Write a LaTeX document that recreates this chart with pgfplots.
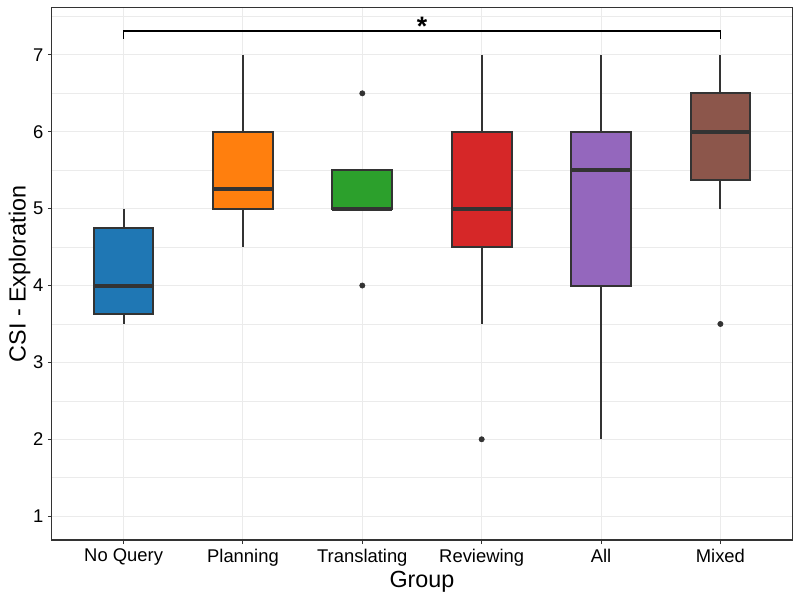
\documentclass[border=0pt]{standalone}
\usepackage{fontspec}
\setmainfont{Liberation Sans}
\usepackage{pgfplots}
\pgfplotsset{compat=1.18}
\usepgfplotslibrary{statistics}
\definecolor{c1}{HTML}{1F77B4}
\definecolor{c2}{HTML}{FF7F0E}
\definecolor{c3}{HTML}{2CA02C}
\definecolor{c4}{HTML}{D62728}
\definecolor{c5}{HTML}{9467BD}
\definecolor{c6}{HTML}{8C564B}
\definecolor{frame}{HTML}{333333}
\definecolor{gridc}{HTML}{EBEBEB}
\begin{document}
\begin{tikzpicture}
\begin{axis}[
    at={(0,0)}, anchor=south west,
    scale only axis, width=555pt, height=399pt,
    xmin=0.4, xmax=6.6, ymin=0.69, ymax=7.61,
    xtick={1,...,6},
    xticklabels={No Query,Planning,Translating,Reviewing,All,Mixed},
    ytick={1,...,7},
    minor ytick={1.5,2.5,...,7.5},
    grid=both,
    major grid style={gridc, line width=0.75pt},
    minor grid style={gridc, line width=0.4pt},
    axis line style={frame, line width=0.75pt},
    tick align=outside, tick pos=left,
    major tick length=3pt, minor tick length=0pt,
    tick style={frame, line width=0.75pt},
    xlabel={Group}, ylabel={CSI - Exploration},
    label style={font=\fontsize{17.5}{20}\selectfont},
    xlabel style={yshift=3pt},
    ylabel style={yshift=-5pt},
    tick label style={font=\fontsize{13.8}{16}\selectfont, black},
    /pgf/number format/assume math mode=true,
    boxplot/draw direction=y,
    boxplot/box extend=0.5,
    boxplot/whisker extend=0,
    boxplot/every box/.style={draw=frame, line width=1.5pt},
    boxplot/every whisker/.style={draw=frame, line width=1.5pt},
    boxplot/every median/.style={draw=frame, line width=3pt},
    outl/.style={mark=*, mark size=2pt, mark options={draw=frame, fill=frame}},
]
\addplot[boxplot prepared={draw position=1, lower whisker=3.5, lower quartile=3.625,
    median=4, upper quartile=4.75, upper whisker=5}, fill=c1, draw=frame] coordinates {};
\addplot[boxplot prepared={draw position=2, lower whisker=4.5, lower quartile=5,
    median=5.25, upper quartile=6, upper whisker=7}, fill=c2, draw=frame] coordinates {};
\addplot[boxplot prepared={draw position=3, lower whisker=5, lower quartile=5,
    median=5, upper quartile=5.5, upper whisker=5.5}, fill=c3, draw=frame, outl]
    coordinates {(0,6.5) (0,4)};
\addplot[boxplot prepared={draw position=4, lower whisker=3.5, lower quartile=4.5,
    median=5, upper quartile=6, upper whisker=7}, fill=c4, draw=frame, outl]
    coordinates {(0,2)};
\addplot[boxplot prepared={draw position=5, lower whisker=2, lower quartile=4,
    median=5.5, upper quartile=6, upper whisker=7}, fill=c5, draw=frame] coordinates {};
\addplot[boxplot prepared={draw position=6, lower whisker=5, lower quartile=5.375,
    median=6, upper quartile=6.5, upper whisker=7}, fill=c6, draw=frame, outl]
    coordinates {(0,3.5)};
% significance bracket
\draw[black, line width=1.3pt] (axis cs:1,7.21) -- (axis cs:1,7.31)
    -- (axis cs:6,7.31) -- (axis cs:6,7.21);
\node[anchor=base, font=\fontsize{20}{22}\selectfont\bfseries, inner sep=0pt]
    at (axis cs:3.5,7.25) {*};
\end{axis}
\pgfresetboundingbox
\path (-39pt,-45pt) rectangle (561pt,405pt);
\end{tikzpicture}
\end{document}
